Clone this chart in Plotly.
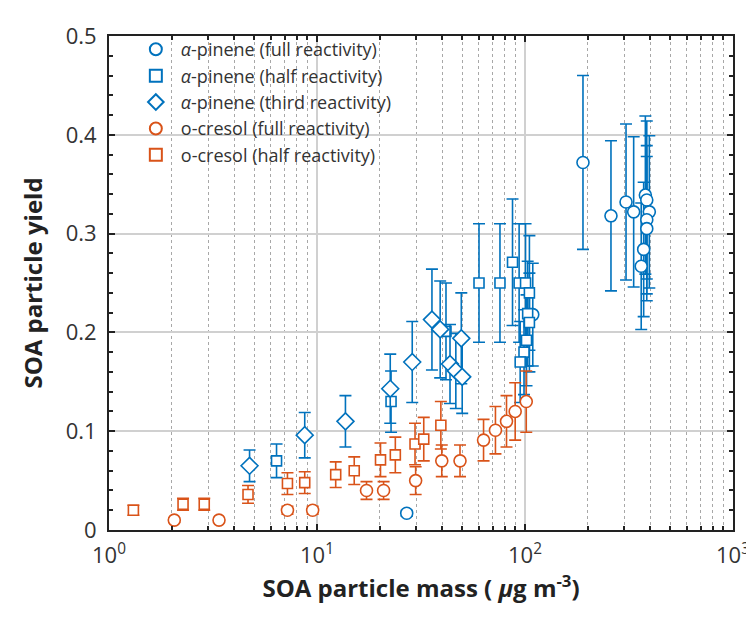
import plotly.graph_objects as go

BLUE = '#0072BD'
ORANGE = '#D95319'

# alpha-pinene (full reactivity) - circles
apf_x = [27.0, 109, 190, 259, 306, 333, 379, 385, 396, 385, 385, 372, 362]
apf_y = [0.017, 0.218, 0.372, 0.318, 0.332, 0.322, 0.339, 0.334, 0.322, 0.314, 0.305, 0.284, 0.267]
apf_e = [0.003, 0.052, 0.088, 0.076, 0.079, 0.076, 0.080, 0.080, 0.077, 0.075, 0.073, 0.068, 0.064]

# alpha-pinene (half reactivity) - squares
aph_x = [6.39, 22.7, 41.7, 60.1, 75.8, 87.1, 93.7, 100.6, 105, 103, 105, 101.7, 98.9, 94.8]
aph_y = [0.070, 0.130, 0.201, 0.250, 0.250, 0.271, 0.250, 0.250, 0.240, 0.219, 0.210, 0.192, 0.180, 0.170]
aph_e = [0.017, 0.031, 0.049, 0.060, 0.060, 0.064, 0.060, 0.060, 0.058, 0.053, 0.050, 0.046, 0.043, 0.041]

# alpha-pinene (third reactivity) - diamonds
apt_x = [4.74, 8.73, 13.7, 22.5, 28.7, 35.7, 39.1, 43.6, 46.5, 49.4, 49.9]
apt_y = [0.065, 0.096, 0.110, 0.143, 0.170, 0.213, 0.203, 0.168, 0.161, 0.194, 0.155]
apt_e = [0.016, 0.023, 0.026, 0.035, 0.041, 0.051, 0.049, 0.040, 0.038, 0.046, 0.037]

# o-cresol (full reactivity) - circles
ocf_x = [2.06, 3.38, 7.21, 9.53, 17.3, 20.9, 29.8, 39.8, 48.7, 63.2, 72.1, 81.5, 89.7, 101.4]
ocf_y = [0.010, 0.010, 0.020, 0.020, 0.040, 0.040, 0.050, 0.070, 0.070, 0.091, 0.101, 0.110, 0.120, 0.130]
ocf_e = [0.002, 0.002, 0.004, 0.004, 0.009, 0.009, 0.014, 0.016, 0.016, 0.021, 0.024, 0.026, 0.029, 0.031]

# o-cresol (half reactivity) - squares
och_x = [1.31, 2.27, 2.87, 4.66, 7.21, 8.73, 12.3, 15.1, 20.2, 23.8, 29.6, 32.6, 39.4]
och_y = [0.020, 0.026, 0.026, 0.036, 0.047, 0.048, 0.056, 0.060, 0.071, 0.076, 0.087, 0.092, 0.106]
och_e = [0.005, 0.006, 0.006, 0.009, 0.011, 0.011, 0.013, 0.014, 0.017, 0.018, 0.021, 0.022, 0.024]

series = [
    ('<i>α</i>-pinene (full reactivity)', apf_x, apf_y, apf_e, 'circle', BLUE, 12),
    ('<i>α</i>-pinene (half reactivity)', aph_x, aph_y, aph_e, 'square', BLUE, 10),
    ('<i>α</i>-pinene (third reactivity)', apt_x, apt_y, apt_e, 'diamond', BLUE, 13),
    ('o-cresol (full reactivity)', ocf_x, ocf_y, ocf_e, 'circle', ORANGE, 12),
    ('o-cresol (half reactivity)', och_x, och_y, och_e, 'square', ORANGE, 10),
]

fig = go.Figure()
for name, xs, ys, es, sym, col, sz in series:
    fig.add_trace(go.Scatter(
        x=xs, y=ys, mode='markers', name=name,
        error_y=dict(type='data', array=es, color=col, thickness=1.6, width=6),
        marker=dict(symbol=sym, size=sz, color='white', line=dict(color=col, width=1.6)),
    ))

font = "Open Sans, Noto Sans, sans-serif"

fig.update_xaxes(
    type='log', range=[0, 3],
    tickvals=[1, 10, 100, 1000],
    ticktext=['10<sup>0</sup>', '10<sup>1</sup>', '10<sup>2</sup>', '10<sup>3</sup>'],
    ticks='inside', ticklen=6, tickwidth=1.5, tickcolor='#222',
    showline=True, linecolor='#222', linewidth=2, mirror='ticks',
    showgrid=True, gridcolor='#d0d0d0', gridwidth=1.5,
    minor=dict(dtick='D1', ticks='inside', ticklen=4, tickcolor='#222',
               showgrid=True, gridcolor='#a8a8a8', griddash='dot', gridwidth=1.2),
    tickfont=dict(size=22, color='#333'),
    ticklabelstandoff=5,
    title=dict(text='<b>SOA particle mass ( <i>μ</i>g m<sup>-3</sup>)</b>',
               font=dict(size=24, color='#222'), standoff=4),
    zeroline=False,
)
fig.update_yaxes(
    range=[0, 0.5], tickvals=[0, 0.1, 0.2, 0.3, 0.4, 0.5],
    ticktext=['0', '0.1', '0.2', '0.3', '0.4', '0.5'],
    ticks='inside', ticklen=6, tickwidth=1.5, tickcolor='#222',
    showline=True, linecolor='#222', linewidth=2, mirror='ticks',
    showgrid=True, gridcolor='#d0d0d0', gridwidth=1.5,
    minor=dict(dtick=0.02, ticks='inside', ticklen=4, tickcolor='#222', showgrid=False),
    tickfont=dict(size=22, color='#333'),
    ticklabelstandoff=6,
    title=dict(text='<b>SOA particle yield</b>', font=dict(size=24, color='#222'), standoff=16),
    zeroline=False,
)

fig.update_layout(
    width=754, height=622,
    margin=dict(l=101, r=20, t=25, b=100),
    paper_bgcolor='white', plot_bgcolor='white',
    font=dict(family=font, color='#333'),
    legend=dict(x=0.035, y=1.01, xanchor='left', yanchor='top',
                bgcolor='rgba(255,255,255,0)', font=dict(size=18, color='#333'),
                tracegroupgap=0, itemsizing='constant', itemwidth=40),
    showlegend=True,
)

fig.write_html("out.html")
